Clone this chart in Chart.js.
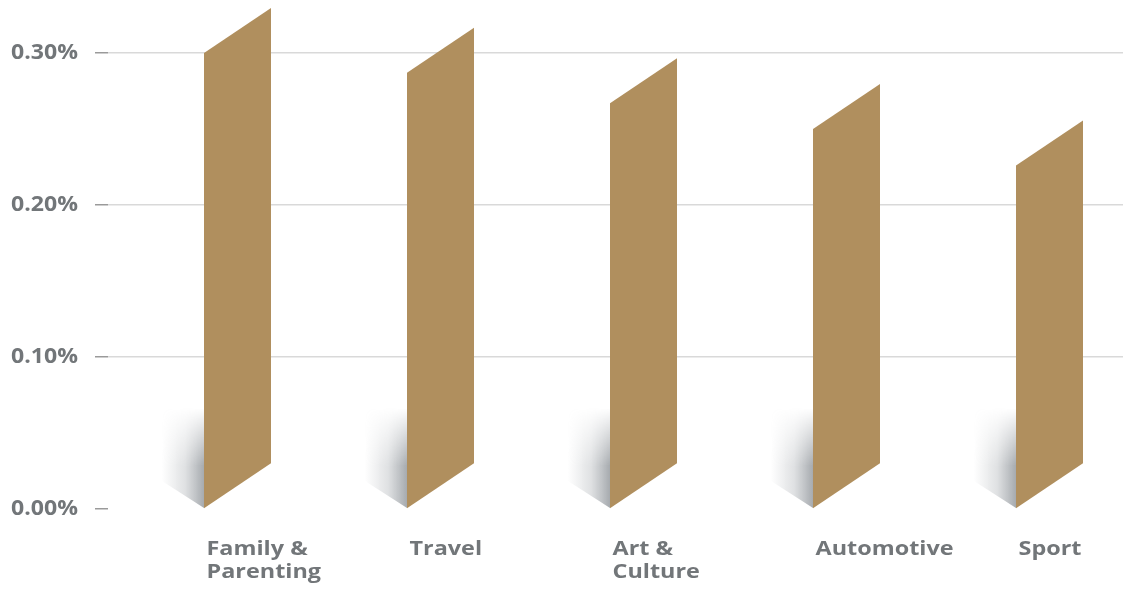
<!DOCTYPE html>
<html>
<head>
<meta charset="utf-8">
<title>Engagement rate by category</title>
<script src="https://cdn.jsdelivr.net/npm/chart.js@4.4.1/dist/chart.umd.min.js"></script>
<style>
  html, body { margin: 0; padding: 0; background: #fff; }
  #wrap { width: 1123px; height: 589px; }
</style>
</head>
<body>
<div id="wrap"><canvas id="rateChart"></canvas></div>
<script>
const categories = [['Family &', 'Parenting'], 'Travel', ['Art &', 'Culture'], 'Automotive', 'Sport'];
const rates = [0.30, 0.287, 0.267, 0.25, 0.226];
const rateTicks = [0, 0.1, 0.2, 0.3];

const GOLD = '#b08f5e';
const TEXT_GREY = '#727679';
const FACE_WIDTH = 67;
const FACE_SHIFT = -5.5;   // left edge of the front face, relative to the category centre
const SLANT = 45;          // how far the right edge is raised

// wraps a scale's label drawing so the glyphs come out a bit wider
function widened(sx) {
    return function (scale) {
        if (scale._widened) return;
        const draw = scale.drawLabels.bind(scale);
        scale.drawLabels = function (area) {
            const items = this.getLabelItems(area);
            const xs = items.map(it => it.options.translation[0]);
            items.forEach(it => { it.options.translation[0] /= sx; });
            this.ctx.save();
            this.ctx.scale(sx, 1);
            draw(area);
            this.ctx.restore();
            items.forEach((it, i) => { it.options.translation[0] = xs[i]; });
        };
        scale._widened = true;
    };
}

// Draws each bar as a slanted ribbon with a soft shadow at its foot
const ribbonBars = {
    id: 'ribbonBars',
    afterDatasetsDraw(chart) {
        const ctx = chart.ctx;
        chart.getDatasetMeta(0).data.forEach(bar => {
            const left = bar.x + FACE_SHIFT;
            const right = left + FACE_WIDTH;
            const top = bar.y;
            const base = Math.round(bar.base);

            // shadow: grey fading leftwards, then masked to fade upwards
            ctx.save();
            ctx.beginPath();
            ctx.moveTo(left, base);
            ctx.lineTo(left - 42, base - 27);
            ctx.lineTo(left - 42, base - 120);
            ctx.lineTo(left, base - 120);
            ctx.closePath();
            ctx.clip();
            const hg = ctx.createLinearGradient(left - 42, 0, left, 0);
            hg.addColorStop(0, 'rgba(140,146,152,0)');
            hg.addColorStop(0.55, 'rgba(140,146,152,0.28)');
            hg.addColorStop(1, 'rgba(128,134,140,0.7)');
            ctx.fillStyle = hg;
            ctx.fillRect(left - 46, base - 105, 47, 110);
            const vg = ctx.createLinearGradient(0, base - 100, 0, base - 42);
            vg.addColorStop(0, 'rgba(0,0,0,0)');
            vg.addColorStop(1, 'rgba(0,0,0,1)');
            ctx.globalCompositeOperation = 'destination-in';
            ctx.fillStyle = vg;
            ctx.fillRect(left - 46, base - 105, 47, 110);
            ctx.restore();

            // ribbon face
            ctx.save();
            ctx.fillStyle = GOLD;
            ctx.beginPath();
            ctx.moveTo(left, bar.base);
            ctx.lineTo(left, top);
            ctx.lineTo(right, top - SLANT);
            ctx.lineTo(right, bar.base - SLANT);
            ctx.closePath();
            ctx.fill();
            ctx.restore();
        });
    }
};

new Chart(document.getElementById('rateChart'), {
    type: 'bar',
    data: {
        labels: categories,
        datasets: [{
            data: rates,
            backgroundColor: 'rgba(0,0,0,0)',
            barThickness: FACE_WIDTH
        }]
    },
    options: {
        responsive: true,
        maintainAspectRatio: false,
        animation: false,
        layout: { padding: { top: 53, right: 0, bottom: 0, left: 0 } },
        plugins: {
            legend: { display: false },
            tooltip: { enabled: false }
        },
        scales: {
            x: {
                grid: { display: false },
                border: { display: false },
                afterFit(scale) { scale.height = 80; },
                afterUpdate: widened(1.17),
                ticks: {
                    color: TEXT_GREY,
                    font: { family: 'Open Sans', weight: 'bold', size: 20, lineHeight: 1.15 },
                    align: 'start',
                    labelOffset: -3,
                    padding: 21,
                    maxRotation: 0,
                    autoSkip: false
                }
            },
            y: {
                min: 0,
                max: 0.3,
                afterBuildTicks(scale) { scale.ticks = rateTicks.map(v => ({ value: v })); },
                afterFit(scale) { scale.width = 108; },
                afterUpdate: widened(1.1),
                border: { display: false },
                grid: {
                    color: c => c.tick && c.tick.value === 0 ? 'rgba(0,0,0,0)' : '#d9d9d9',
                    lineWidth: 1.5,
                    tickColor: '#9a9a9a',
                    tickLength: 13
                },
                ticks: {
                    color: TEXT_GREY,
                    font: { family: 'Open Sans', weight: 'bold', size: 21 },
                    padding: 17,
                    callback: v => v.toFixed(2) + '%'
                }
            }
        }
    },
    plugins: [ribbonBars]
});
</script>
</body>
</html>
